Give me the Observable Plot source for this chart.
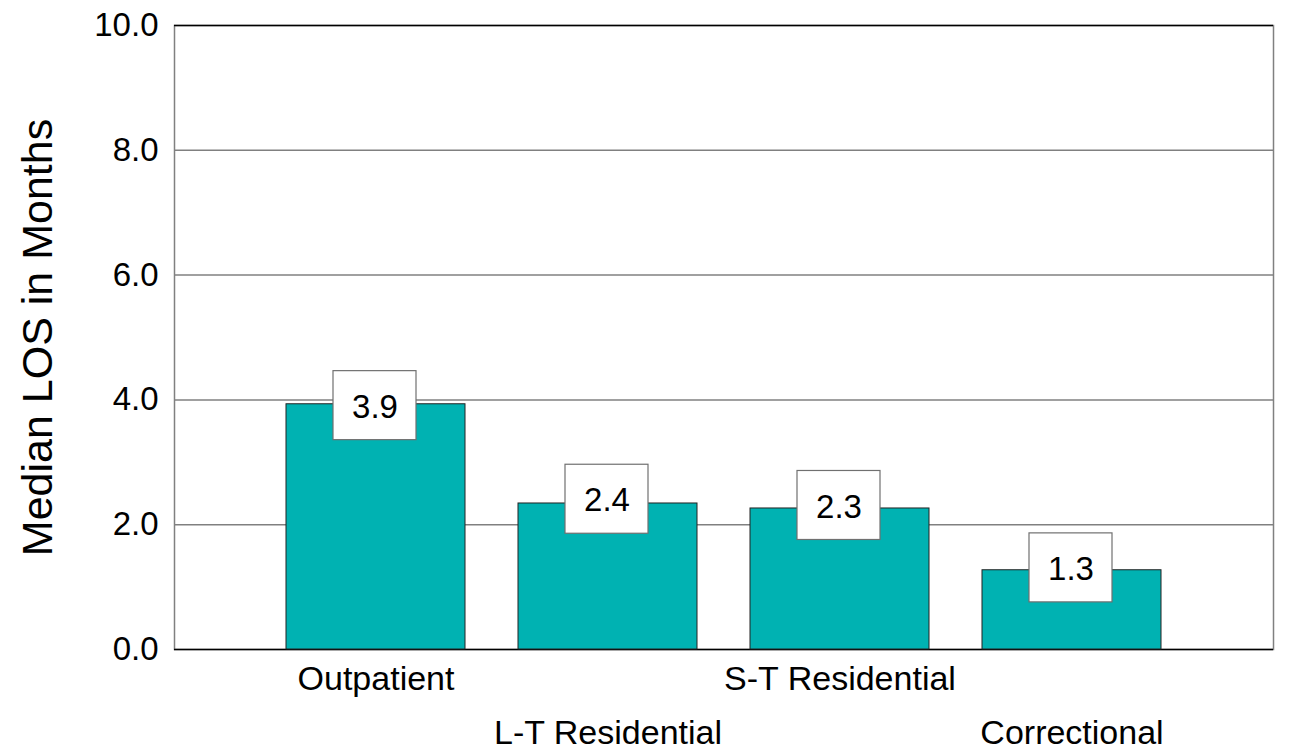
<!DOCTYPE html>
<html>
<head>
<meta charset="utf-8">
<script src="https://cdn.jsdelivr.net/npm/d3@7"></script>
<script src="https://cdn.jsdelivr.net/npm/@observablehq/plot@0.6"></script>
<style>
  html, body { margin: 0; padding: 0; background: #fff; }
  #chart { width: 1298px; height: 752px; }
</style>
</head>
<body>
<div id="chart"></div>
<script>
const categories = ["Outpatient", "L-T Residential", "S-T Residential", "Correctional"];
const values = [3.93, 2.34, 2.26, 1.27];
const labelValues = [3.9, 2.4, 2.3, 1.3];
const yTicks = [0, 2, 4, 6, 8, 10];
const gridTicks = [2, 4, 6, 8];
const yLabel = "Median LOS in Months";

const data = categories.map((c, i) => ({cat: c, value: values[i], labelValue: labelValues[i]}));
const row1 = categories.filter((c, i) => i % 2 === 0);
const row2 = categories.filter((c, i) => i % 2 === 1);

const font = "Liberation Sans, Arial, Helvetica, sans-serif";
const fmt = d3.format(".1f");

const chart = Plot.plot({
  width: 1298,
  height: 752,
  marginLeft: 174,
  marginRight: 25,
  marginTop: 25,
  marginBottom: 103,
  style: {fontFamily: font, background: "#fff", color: "#000"},
  x: {domain: categories, paddingInner: 0.227, paddingOuter: 0.472, align: 0.5},
  y: {domain: [0, 10]},
  marks: [
    Plot.ruleY(gridTicks, {stroke: "#808080", strokeWidth: 1.5}),
    Plot.frame({stroke: "#808080", strokeWidth: 1.5}),
    Plot.ruleY([0, 10], {stroke: "#000", strokeWidth: 1.5}),
    Plot.barY(data, {x: "cat", y: "value", fill: "#00B2B2", stroke: "#222", strokeWidth: 1}),
    Plot.barY(data, {x: "cat", y1: "labelValue", y2: "labelValue", fill: "#fff", stroke: "#707070", strokeWidth: 1.2,
      insetLeft: 47, insetRight: 49, insetTop: -35, insetBottom: -34}),
    Plot.text(data, {x: "cat", y: "labelValue", text: d => fmt(d.labelValue), fontSize: 33, fill: "#000", dx: -1, dy: 1}),
    Plot.axisY(yTicks, {tickSize: 0, tickPadding: 16, tickFormat: fmt, fontSize: 33, label: null}),
    Plot.axisX(row1, {tickSize: 0, tickPadding: 16, fontSize: 34, label: null}),
    Plot.axisX(row2, {tickSize: 0, tickPadding: 70, fontSize: 34, label: null}),
    Plot.text([yLabel], {frameAnchor: "left", textAnchor: "middle", rotate: -90, dx: -136, fontSize: 43, fill: "#000"})
  ]
});
document.getElementById("chart").appendChild(chart);
</script>
</body>
</html>
